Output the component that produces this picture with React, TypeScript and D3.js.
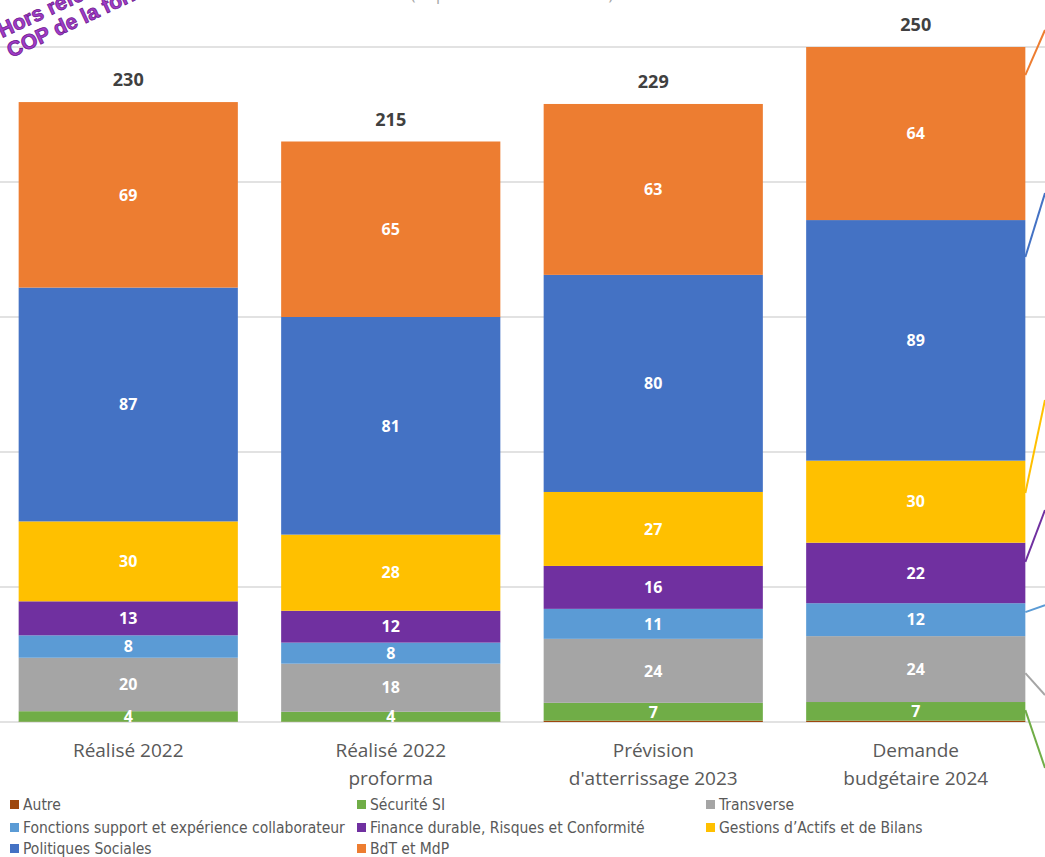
import React from 'react';
import * as d3 from 'd3';

const WIDTH = 1045;
const HEIGHT = 857;

const categories = [
  ['Réalisé 2022'],
  ['Réalisé 2022', 'proforma'],
  ['Prévision', "d'atterrissage 2023"],
  ['Demande', 'budgétaire 2024'],
];

const seriesNames = [
  'Autre',
  'Sécurité SI',
  'Transverse',
  'Fonctions support et expérience collaborateur',
  'Finance durable, Risques et Conformité',
  'Gestions d’Actifs et de Bilans',
  'Politiques Sociales',
  'BdT et MdP',
];

const seriesColors = ['#9E480E', '#70AD47', '#A5A5A5', '#5B9BD5', '#7030A0', '#FFC000', '#4472C4', '#ED7D31'];

// one array per series, values in M€ for each bar
const autre = [0.1, 0.1, 0.5, 0.5];
const securiteSI = [3.9, 3.7, 6.6, 6.9];
const transverse = [19.8, 17.8, 23.7, 24.4];
const fonctionsSupport = [8.3, 7.8, 11.1, 12.2];
const financeDurable = [12.6, 11.8, 15.9, 22.4];
const gestionsActifs = [29.6, 28.2, 27.4, 30.4];
const politiquesSociales = [86.6, 80.6, 80.4, 89.1];
const bdtMdp = [68.7, 65.0, 63.3, 64.1];

const seriesValues = [autre, securiteSI, transverse, fonctionsSupport, financeDurable, gestionsActifs, politiquesSociales, bdtMdp];

const yTicks = [0, 50, 100, 150, 200, 250];

// leader lines leaving the last bar towards the (cropped) labels on the right, in M€
const leaderFrom = [null, 4.4, 18.1, 40.7, 59.3, 84.8, 172.2, 239.6];
const leaderTo = [null, -17, 10, 43.3, 78.5, 119.3, 195.9, 256.3];

const App = () => {
  const x = d3
    .scaleBand()
    .domain(categories.map((c, i) => String(i)))
    .range([-3, 1047])
    .paddingInner(0.165)
    .paddingOuter(0.0825);

  const y = d3.scaleLinear().domain([0, 250]).range([722, 47]);
  const fmt = d3.format('.0f');

  const stacked = categories.map((c, i) => {
    let acc = 0;
    const segs = seriesValues.map((vals, s) => {
      const y0 = acc;
      acc += vals[i];
      return { s, y0, y1: acc, v: vals[i] };
    });
    return { i, segs, total: acc };
  });

  const lastX = (x(String(categories.length - 1)) as number) + x.bandwidth();

  const legendCols = [10, 357, 706];
  const legendRows = [805, 828, 849];

  return (
    <svg width={WIDTH} height={HEIGHT} style={{ position: 'absolute', left: 0, top: 0, background: '#fff' }}>
      <rect width={WIDTH} height={HEIGHT} fill="#fff" />

      {/* titre coupé */}
      <text x={512} y={0} textAnchor="middle" fontFamily="'Open Sans', sans-serif" fontSize={16} fill="#a6a6a6">
        (Dépenses externes en M€)
      </text>

      {/* grille */}
      {yTicks.map(t => (
        <line key={t} x1={0} x2={WIDTH} y1={y(t)} y2={y(t)} stroke="#d9d9d9" strokeWidth={1.3} />
      ))}

      {/* barres */}
      {stacked.map(bar => {
        const bx = x(String(bar.i)) as number;
        const bw = x.bandwidth();
        return (
          <g key={bar.i}>
            {bar.segs.map(seg => (
              <rect
                key={seg.s}
                x={bx}
                y={y(seg.y1)}
                width={bw}
                height={y(seg.y0) - y(seg.y1)}
                fill={seriesColors[seg.s]}
              />
            ))}
            {bar.segs
              .filter(seg => seg.v >= 1)
              .map(seg => (
                <text
                  key={'l' + seg.s}
                  x={bx + bw / 2}
                  y={(y(seg.y0) + y(seg.y1)) / 2}
                  dy="0.36em"
                  textAnchor="middle"
                  fontFamily="'Open Sans', sans-serif"
                  fontWeight={700}
                  fontSize={16}
                  fill="#fff"
                >
                  {fmt(seg.v)}
                </text>
              ))}
            <text
              x={bx + bw / 2}
              y={y(bar.total) - 16}
              textAnchor="middle"
              fontFamily="'Open Sans', sans-serif"
              fontWeight={700}
              fontSize={18}
              fill="#404040"
            >
              {fmt(bar.total)}
            </text>
            {categories[bar.i].map((line, k) => (
              <text
                key={k}
                x={bx + bw / 2}
                y={757 + k * 28}
                textAnchor="middle"
                fontFamily="'Open Sans', sans-serif"
                fontSize={19}
                fill="#595959"
              >
                {line}
              </text>
            ))}
          </g>
        );
      })}

      {/* traits de rappel vers la droite */}
      {leaderFrom.map((f, s) =>
        f === null ? null : (
          <line
            key={s}
            x1={lastX}
            y1={y(f)}
            x2={WIDTH}
            y2={y(leaderTo[s] as number)}
            stroke={seriesColors[s]}
            strokeWidth={2}
          />
        )
      )}

      {/* mention en haut à gauche */}
      <g
        fontFamily="'Liberation Sans', Arial, sans-serif"
        fontWeight={700}
        fontSize={21}
        fill="#A23BC8"
        stroke="#6E2090"
        strokeWidth={0.8}
      >
        <text transform="translate(2,38) rotate(-25)">Hors référentiel</text>
        <text transform="translate(11,58) rotate(-25)">COP de la formation</text>
      </g>

      {/* légende */}
      {seriesNames.map((name, s) => {
        const lx = legendCols[s % 3];
        const ly = legendRows[Math.floor(s / 3)];
        return (
          <g key={name}>
            <rect x={lx} y={ly - 5} width={9} height={9} fill={seriesColors[s]} />
            <text
              x={lx + 13}
              y={ly}
              dy="0.35em"
              fontFamily="'Liberation Sans Narrow', 'DejaVu Sans Condensed', sans-serif"
              fontSize={15.5}
              fill="#595959"
            >
              {name}
            </text>
          </g>
        );
      })}
    </svg>
  );
};

export default App;
